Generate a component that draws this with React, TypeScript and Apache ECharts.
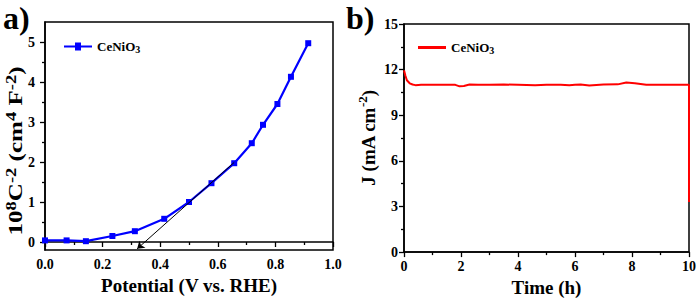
import React, { useEffect, useRef } from "react";
import * as echarts from "echarts";

// Panel a: Mott-Schottky
const potentialV = [0.0, 0.075, 0.142, 0.234, 0.312, 0.414, 0.5, 0.578, 0.657, 0.718, 0.757, 0.807, 0.854, 0.914];
const invC2 = [0.04, 0.04, 0.02, 0.15, 0.27, 0.58, 1.0, 1.47, 1.97, 2.47, 2.93, 3.45, 4.13, 4.97];
const tangentStart = [0.657, 1.99];
const tangentEnd = [0.32, -0.17];
const aYTicks = [0, 1, 2, 3, 4, 5];
const aYMinor = [0.5, 1.5, 2.5, 3.5, 4.5];

// Panel b: chronoamperometry
const timeH = [0, 0.05, 0.1, 0.2, 0.3, 0.4, 0.6, 1.0, 1.5, 1.8, 1.95, 2.1, 2.3, 2.6, 3.0, 3.5, 4.0, 4.6, 5.0, 5.5, 5.8, 6.0, 6.2, 6.5, 7.0, 7.5, 7.8, 8.1, 8.5, 9.0, 9.5, 10.0, 10.0];
const currentJ = [11.95, 11.6, 11.3, 11.1, 11.02, 10.98, 11.0, 11.0, 11.0, 11.0, 10.9, 10.92, 11.02, 11.0, 11.0, 11.02, 11.0, 10.97, 11.0, 11.0, 10.97, 11.0, 11.02, 10.96, 11.02, 11.03, 11.15, 11.1, 11.0, 11.0, 11.0, 11.0, 3.3];

const FONT = "Liberation Serif";

export default function App() {
  const ref = useRef<HTMLDivElement>(null);
  useEffect(() => {
    if (!ref.current) return;
    const chart = echarts.init(ref.current, undefined, { renderer: "svg" });
    const base = { fontFamily: FONT, fontWeight: "bold", color: "#000" } as any;
    const nameRich = {
      n: { ...base, fontSize: 19, lineHeight: 24 },
      sup: { ...base, fontSize: 13, lineHeight: 14, verticalAlign: "top" },
    };
    const gRich = {
      n: { fontFamily: FONT, fontWeight: "bold", fill: "#000", fontSize: 19, lineHeight: 24 },
      sup: { fontFamily: FONT, fontWeight: "bold", fill: "#000", fontSize: 14, lineHeight: 14, verticalAlign: "top" },
    };
    const legendRich = {
      a: { ...base, fontSize: 13, lineHeight: 16 },
      sub: { ...base, fontSize: 10, lineHeight: 10, verticalAlign: "bottom" },
    };
    const axisLine = { show: true, lineStyle: { color: "#000", width: 1.5 } };
    const label = { ...base, fontSize: 14 };
    const tickStyle = { color: "#000", width: 1.3 };

    chart.setOption({
      animation: false,
      backgroundColor: "#fff",
      grid: [
        { left: 45, top: 22, width: 288, height: 228, show: true, borderColor: "#000", borderWidth: 1.5, backgroundColor: "transparent" },
        { left: 404, top: 24, width: 285, height: 232, show: true, borderColor: "#000", borderWidth: 1.5, backgroundColor: "transparent" },
      ],
      xAxis: [
        {
          type: "value", gridIndex: 0, min: 0, max: 1, interval: 0.2,
          axisLine, splitLine: { show: false },
          axisTick: { show: true, inside: false, length: 5, lineStyle: tickStyle },
          minorTick: { show: true, splitNumber: 2, length: 3, lineStyle: tickStyle },
          axisLabel: { ...label, margin: 7, formatter: (v: number) => v.toFixed(1) },
          name: "Potential (V vs. RHE)", nameLocation: "middle", nameGap: 23,
          nameTextStyle: { ...base, fontSize: 19 },
        },
        {
          type: "value", gridIndex: 1, min: 0, max: 10, interval: 2,
          axisLine, splitLine: { show: false },
          axisTick: { show: true, inside: false, length: 5, lineStyle: tickStyle },
          minorTick: { show: true, splitNumber: 2, length: 3, lineStyle: tickStyle },
          axisLabel: { ...label, margin: 7 },
          name: "Time (h)", nameLocation: "middle", nameGap: 20,
          nameTextStyle: { ...base, fontSize: 19 },
        },
      ],
      yAxis: [
        {
          type: "value", gridIndex: 0, min: -0.2, max: 5.5,
          axisLine, splitLine: { show: false },
          axisTick: { show: true, inside: false, length: 5, customValues: aYTicks, lineStyle: tickStyle },
          axisLabel: { ...label, margin: 10, customValues: aYTicks },
        },
        {
          type: "value", gridIndex: 0, min: -0.2, max: 5.5, position: "left",
          axisLine: { show: false }, splitLine: { show: false },
          axisTick: { show: true, inside: false, length: 3, customValues: aYMinor, lineStyle: tickStyle },
          axisLabel: { show: false },
        },
        {
          type: "value", gridIndex: 1, min: 0, max: 15, interval: 3,
          axisLine, splitLine: { show: false },
          axisTick: { show: true, inside: false, length: 5, lineStyle: tickStyle },
          minorTick: { show: true, splitNumber: 2, length: 3, lineStyle: tickStyle },
          axisLabel: { ...label, margin: 6 },
          name: "{n|J (mA cm}{sup|-2}{n|)}",
          nameLocation: "middle", nameGap: 24, nameRotate: 90,
          nameTextStyle: { rich: nameRich },
        },
      ],
      legend: [
        {
          left: 59, top: 35, itemWidth: 28, itemHeight: 8, itemGap: 0,
          data: [{ name: "CeNiO3-a", icon: "path://M0,3 L11,3 L11,0 L17,0 L17,3 L28,3 L28,5 L17,5 L17,8 L11,8 L11,5 L0,5 Z" }],
          formatter: () => "{a|CeNiO}{sub|3}",
          textStyle: { rich: legendRich },
        },
        {
          left: 413, top: 36, itemWidth: 28, itemHeight: 3, itemGap: 0,
          data: [{ name: "CeNiO3-b", icon: "path://M0,0 L28,0 L28,3 L0,3 Z" }],
          formatter: () => "{a|CeNiO}{sub|3}",
          textStyle: { rich: legendRich },
        },
      ],
      graphic: [
        { type: "text", left: 3, top: 2, style: { text: "a)", font: `bold 32px ${FONT}`, fill: "#000" } },
        { type: "text", left: 346, top: 2, style: { text: "b)", font: `bold 32px ${FONT}`, fill: "#000" } },
        {
          type: "text", x: 16, y: 151, rotation: Math.PI / 2, scaleX: 1.32,
          style: {
            text: "{n|10}{sup|8}{n|C}{sup|-2}{n| (cm}{sup|4}{n| F}{sup|-2}{n|)}",
            rich: gRich, align: "center", verticalAlign: "middle",
          },
        },
      ],
      series: [
        {
          name: "CeNiO3-a", type: "line", xAxisIndex: 0, yAxisIndex: 0,
          data: potentialV.map((v, i) => [v, invC2[i]]),
          lineStyle: { color: "#0000ff", width: 2.2 },
          itemStyle: { color: "#0000ff" },
          symbol: "rect", symbolSize: 6, showSymbol: true,
          z: 3,
          markLine: {
            silent: true,
            symbol: ["none", "arrow"], symbolSize: 7,
            label: { show: false },
            lineStyle: { color: "#000", width: 1, type: "solid" },
            data: [[{ coord: tangentStart }, { coord: tangentEnd }]],
            z: 5,
          },
        },
        {
          name: "CeNiO3-b", type: "line", xAxisIndex: 1, yAxisIndex: 2,
          data: timeH.map((t, i) => [t, currentJ[i]]),
          lineStyle: { color: "#ff0000", width: 2 },
          itemStyle: { color: "#ff0000" },
          showSymbol: false, symbol: "none",
        },
      ],
    });
    return () => chart.dispose();
  }, []);
  return <div ref={ref} style={{ position: "fixed", left: 0, top: 0, width: 699, height: 302 }} />;
}
